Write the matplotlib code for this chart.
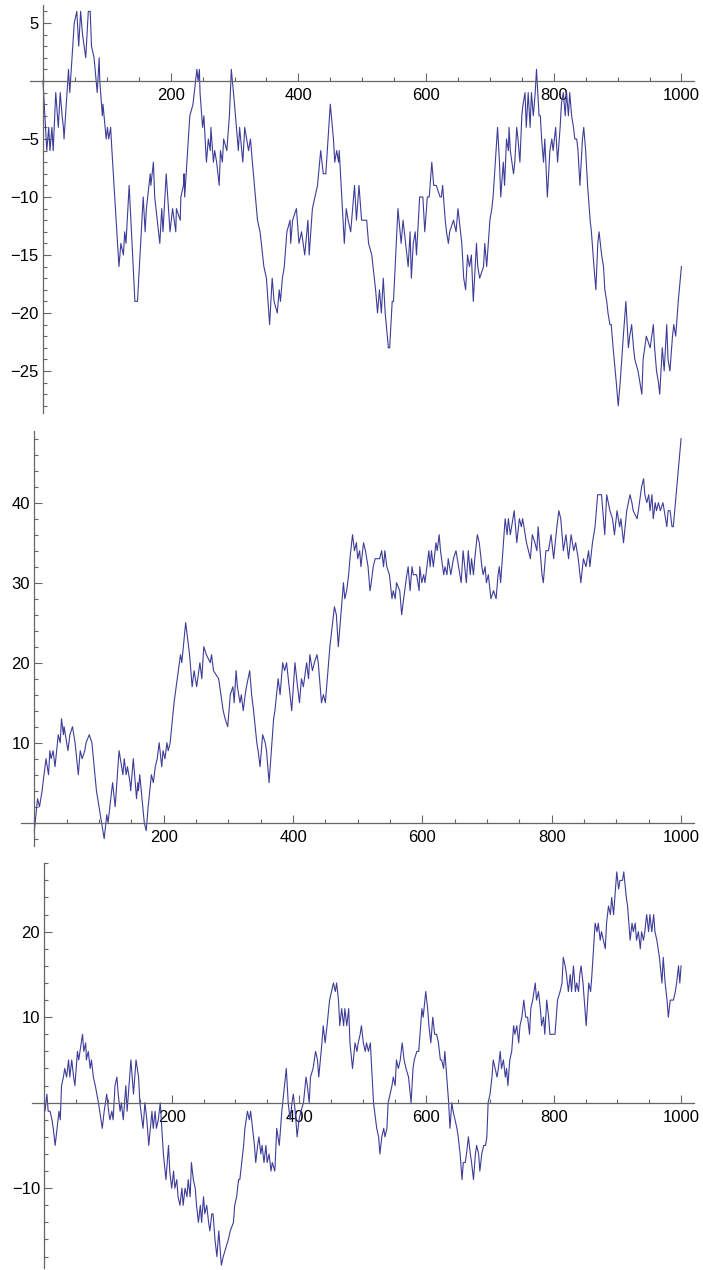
import matplotlib
matplotlib.use("Agg")
import matplotlib.pyplot as plt
from matplotlib.ticker import FixedLocator, MultipleLocator

# ---- data: turning points of the three walks ----
walk1_steps = [0, 6, 9, 11, 14, 16, 20, 24, 27, 30, 32, 33, 40, 42, 49, 53, 56, 59, 62, 67, 71, 74,
               76, 80, 85, 88, 89, 93, 94, 99, 101, 103, 106, 108, 119, 122, 126, 128, 130, 135,
               144, 148, 157, 160, 162, 168, 169, 173, 175, 181, 183, 186, 188, 193, 199, 203,
               208, 209, 215, 216, 220, 221, 222, 230, 235, 241, 243, 245, 246, 250, 252, 256,
               259, 262, 263, 267, 269, 272, 276, 278, 281, 283, 288, 292, 295, 300, 306, 308,
               313, 316, 319, 322, 325, 328, 336, 340, 346, 350, 355, 359, 362, 367, 370, 372,
               375, 378, 382, 387, 388, 391, 397, 401, 405, 410, 415, 417, 422, 426, 430, 435,
               439, 443, 450, 455, 457, 460, 463, 464, 472, 475, 478, 482, 488, 491, 495, 499,
               507, 510, 515, 517, 521, 524, 527, 530, 533, 536, 541, 543, 547, 549, 556, 561,
               564, 568, 572, 575, 577, 580, 583, 585, 590, 595, 598, 602, 605, 609, 612, 616,
               622, 624, 626, 630, 632, 635, 637, 643, 647, 650, 656, 659, 662, 665, 668, 671,
               674, 679, 681, 684, 690, 692, 695, 700, 703, 705, 712, 715, 717, 721, 723, 726,
               729, 730, 732, 737, 739, 742, 744, 747, 750, 752, 755, 757, 760, 763, 765, 768,
               771, 773, 777, 779, 781, 784, 786, 790, 794, 797, 799, 803, 806, 810, 812, 815,
               818, 820, 823, 825, 828, 831, 833, 836, 838, 841, 845, 847, 850, 853, 857, 859,
               863, 866, 869, 871, 875, 878, 880, 883, 885, 888, 890, 893, 898, 901, 904, 909,
               913, 917, 919, 922, 925, 927, 932, 935, 938, 940, 945, 951, 956, 958, 961, 964,
               966, 970, 973, 977, 979, 982, 986, 988, 991, 995, 1000]
walk1_vals = [0, -6, -4, -6, -4, -6, -1, -4, -1, -3, -4, -5, 1, -1, 5, 6, 3, 6, 4, 2, 6, 6,
              3, 2, -1, 2, 0, -3, -2, -5, -4, -5, -4, -6, -16, -14, -15, -13, -14, -9,
              -19, -19, -10, -13, -11, -8, -9, -7, -10, -13, -14, -11, -13, -8, -13, -11,
              -13, -11, -12, -10, -9, -8, -10, -3, -2, 1, 0, 1, -1, -4, -3, -7,
              -5, -6, -4, -7, -6, -7, -9, -6, -7, -5, -6, -3, 1, -2, -6, -4,
              -7, -4, -5, -6, -5, -7, -12, -13, -16, -17, -21, -17, -19, -20, -18, -19,
              -17, -16, -13, -12, -14, -12, -11, -14, -13, -15, -12, -15, -11, -10, -9, -6,
              -8, -8, -2, -5, -7, -6, -7, -6, -14, -11, -12, -13, -9, -12, -9, -12,
              -12, -14, -15, -16, -18, -20, -18, -20, -17, -20, -23, -23, -19, -19, -11, -14,
              -12, -14, -16, -13, -17, -14, -13, -15, -10, -10, -13, -10, -10, -7, -9, -9,
              -10, -10, -9, -12, -13, -14, -13, -12, -13, -11, -14, -17, -18, -15, -16, -15,
              -19, -14, -16, -17, -16, -14, -16, -12, -11, -10, -4, -7, -10, -7, -9, -5,
              -6, -4, -6, -8, -7, -4, -5, -7, -3, -2, -1, -4, -1, -4, -1, -3,
              -1, 1, -3, -3, -5, -7, -5, -10, -6, -5, -6, -4, -7, -4, -2, -1,
              -3, -1, -3, -1, -3, -4, -5, -5, -6, -9, -5, -4, -6, -9, -12, -13,
              -16, -18, -14, -13, -15, -16, -18, -19, -20, -21, -21, -23, -26, -28, -26, -22,
              -19, -23, -22, -21, -23, -24, -25, -26, -27, -24, -22, -23, -21, -23, -25, -26,
              -27, -23, -25, -21, -24, -25, -22, -21, -22, -19, -16]

walk2_steps = [0, 5, 8, 10, 12, 18, 22, 24, 26, 29, 32, 37, 40, 42, 45, 46, 52, 55, 59, 63, 68,
               71, 74, 78, 80, 85, 89, 96, 100, 104, 108, 112, 114, 121, 125, 131, 137, 139,
               142, 144, 148, 149, 153, 158, 160, 161, 163, 170, 173, 176, 181, 184, 187, 190,
               193, 197, 199, 202, 205, 207, 210, 216, 221, 226, 228, 234, 240, 244, 247, 251,
               256, 259, 262, 266, 272, 274, 277, 285, 292, 295, 299, 303, 307, 309, 312, 314,
               318, 320, 323, 326, 328, 333, 336, 339, 344, 346, 349, 353, 357, 359, 363, 370,
               372, 377, 380, 384, 387, 390, 394, 398, 403, 407, 410, 413, 416, 421, 424, 426,
               430, 433, 437, 439, 442, 444, 447, 450, 452, 457, 464, 467, 470, 475, 478, 480,
               483, 486, 488, 492, 495, 498, 500, 503, 505, 509, 512, 516, 519, 521, 524, 527,
               534, 537, 540, 542, 545, 549, 553, 555, 558, 560, 565, 568, 571, 576, 578, 581,
               584, 586, 591, 595, 596, 599, 602, 604, 607, 610, 612, 614, 617, 621, 623, 626,
               628, 633, 635, 638, 640, 644, 648, 652, 656, 660, 663, 668, 671, 674, 676, 679,
               681, 685, 688, 692, 694, 697, 699, 702, 706, 710, 714, 717, 719, 721, 728, 731,
               733, 736, 740, 742, 746, 750, 753, 755, 759, 761, 767, 770, 774, 777, 779, 785,
               787, 791, 795, 799, 803, 808, 811, 814, 818, 822, 826, 830, 834, 837, 841, 845,
               849, 853, 857, 859, 863, 867, 871, 877, 882, 885, 890, 894, 897, 901, 905, 907,
               911, 916, 921, 924, 926, 932, 934, 939, 942, 944, 947, 950, 952, 955, 957, 960,
               962, 965, 968, 972, 974, 978, 980, 983, 986, 988, 1000]
walk2_vals = [-1, 3, 2, 3, 4, 8, 6, 9, 8, 9, 7, 11, 10, 13, 11, 12, 9, 11, 12, 10, 6,
              9, 8, 9, 10, 11, 10, 4, 2, 0, -2, 1, 0, 5, 2, 9, 6, 8,
              6, 7, 5, 4, 8, 3, 5, 4, 6, 0, -1, 2, 6, 5, 7, 8,
              10, 7, 9, 8, 10, 9, 10, 15, 18, 21, 20, 25, 21, 17, 19, 17,
              20, 18, 22, 21, 20, 21, 19, 18, 14, 13, 12, 16, 17, 15, 19, 17,
              15, 16, 14, 16, 17, 19, 16, 14, 10, 9, 7, 11, 10, 9, 5, 13,
              14, 18, 16, 20, 19, 20, 17, 14, 20, 17, 15, 18, 17, 20, 18, 21,
              19, 20, 21, 20, 17, 15, 16, 15, 17, 22, 27, 26, 22, 27, 30, 28,
              29, 31, 33, 36, 34, 35, 33, 34, 32, 35, 34, 32, 29, 30, 32, 33,
              33, 34, 32, 34, 32, 31, 28, 29, 28, 30, 29, 26, 28, 31, 32, 29,
              32, 31, 31, 29, 32, 30, 31, 30, 32, 34, 32, 34, 32, 35, 34, 36,
              34, 31, 32, 31, 33, 31, 33, 34, 32, 30, 34, 30, 34, 31, 33, 31,
              33, 36, 35, 32, 31, 32, 30, 31, 28, 29, 28, 31, 32, 30, 38, 36,
              38, 36, 38, 39, 35, 38, 37, 38, 36, 35, 33, 36, 35, 34, 37, 31,
              30, 34, 34, 36, 33, 37, 39, 38, 34, 36, 33, 36, 34, 35, 33, 30,
              33, 32, 34, 32, 35, 37, 41, 41, 36, 41, 39, 38, 36, 39, 37, 38,
              35, 39, 41, 40, 39, 38, 39, 42, 43, 41, 40, 41, 39, 41, 38, 40,
              39, 40, 39, 40, 39, 37, 39, 39, 37, 37, 48]

walk3_steps = [0, 1, 4, 6, 9, 12, 14, 17, 20, 23, 25, 27, 30, 32, 35, 38, 40, 43, 46, 48, 52,
               54, 56, 60, 62, 65, 66, 69, 72, 74, 77, 80, 85, 87, 91, 94, 98, 101, 103, 106,
               108, 111, 114, 116, 119, 121, 124, 128, 130, 136, 140, 144, 148, 150, 155, 158,
               161, 164, 169, 171, 174, 176, 179, 182, 187, 191, 195, 197, 200, 203, 205, 208,
               210, 213, 216, 218, 221, 224, 226, 229, 231, 234, 237, 239, 242, 245, 247, 250,
               252, 255, 258, 260, 263, 265, 268, 271, 274, 278, 281, 285, 289, 292, 297, 299,
               302, 305, 307, 310, 313, 315, 319, 322, 324, 327, 330, 332, 335, 337, 340, 342,
               345, 348, 350, 353, 356, 358, 362, 365, 369, 373, 380, 383, 386, 389, 391, 394,
               397, 400, 403, 407, 411, 413, 416, 418, 422, 424, 426, 429, 431, 436, 438, 441,
               444, 448, 451, 454, 457, 459, 462, 464, 467, 470, 472, 475, 478, 480, 484, 488,
               491, 493, 496, 498, 501, 504, 506, 509, 512, 517, 522, 525, 527, 530, 533, 535,
               538, 540, 543, 546, 548, 551, 553, 556, 559, 562, 565, 568, 572, 576, 579, 581,
               585, 588, 593, 595, 599, 602, 604, 607, 610, 613, 616, 619, 622, 624, 627, 629,
               632, 635, 637, 640, 642, 645, 648, 650, 653, 656, 658, 661, 663, 666, 669, 671,
               674, 677, 679, 682, 684, 687, 690, 693, 695, 697, 700, 703, 705, 708, 711, 713,
               716, 718, 721, 724, 726, 728, 731, 734, 737, 739, 742, 745, 747, 750, 753, 756,
               759, 762, 764, 767, 771, 773, 776, 779, 781, 784, 786, 789, 792, 794, 802, 806,
               810, 813, 815, 818, 820, 823, 826, 828, 831, 834, 836, 839, 841, 843, 846, 851,
               855, 858, 860, 865, 868, 870, 873, 875, 878, 881, 883, 886, 889, 891, 894, 895,
               899, 902, 904, 908, 910, 914, 916, 920, 923, 925, 928, 930, 933, 936, 938, 941,
               943, 946, 949, 951, 954, 957, 959, 962, 966, 970, 972, 975, 978, 980, 983, 988,
               991, 993, 996, 998, 1000]
walk3_vals = [0, -1, 1, -1, -1, -2, -3, -5, -3, -1, -2, 2, 3, 4, 3, 5, 3, 5, 3, 2, 6,
              5, 6, 8, 6, 7, 5, 6, 4, 5, 3, 2, 0, -1, -3, -1, 1, -1, -2, -1,
              -2, 2, 3, 1, -1, 0, -2, 2, -1, 5, 1, 5, 3, 0, -3, 0,
              -2, -5, -1, -3, -1, -3, -2, 0, -6, -9, -5, -8, -10, -8, -10, -9,
              -11, -12, -10, -12, -10, -11, -9, -11, -7, -9, -10, -12, -14, -12, -14, -11,
              -13, -12, -14, -15, -13, -13, -16, -18, -15, -19, -18, -17, -16, -15, -14, -12,
              -11, -9, -9, -7, -5, -3, -1, -2, -1, -3, -5, -7, -5, -4, -6, -5,
              -7, -5, -7, -6, -8, -7, -8, -3, -5, -1, 4, 0, -2, 0, 1, -1,
              -4, -2, -1, 0, 3, 2, 0, 3, 4, 5, 6, 5, 3, 7, 9, 7,
              9, 12, 13, 14, 13, 14, 12, 9, 11, 9, 11, 9, 11, 7, 4, 7,
              6, 7, 8, 9, 7, 6, 7, 6, 7, 0, -3, -4, -6, -4, -3, -4,
              -3, 0, 1, 2, 3, 2, 5, 4, 5, 7, 5, 4, 3, 0, 4, 5,
              6, 6, 11, 10, 13, 11, 9, 7, 10, 8, 8, 7, 5, 5, 4, 6,
              3, 0, -3, 0, -1, -2, -3, -4, -6, -9, -7, -7, -6, -4, -6, -7,
              -9, -6, -5, -6, -8, -6, -5, -5, -4, 0, 1, 3, 5, 4, 3, 4,
              6, 4, 5, 3, 4, 2, 5, 6, 9, 8, 9, 7, 9, 10, 12, 10,
              10, 8, 11, 12, 14, 12, 13, 11, 9, 10, 8, 12, 10, 8, 8, 12,
              13, 14, 17, 16, 15, 13, 15, 13, 16, 13, 14, 13, 15, 16, 14, 9,
              14, 13, 15, 21, 20, 21, 19, 20, 19, 18, 21, 23, 22, 24, 22, 23,
              27, 25, 26, 26, 27, 24, 23, 19, 21, 20, 21, 19, 20, 18, 20, 19,
              20, 22, 20, 22, 20, 22, 20, 19, 17, 14, 17, 14, 12, 10, 12, 12,
              13, 14, 16, 14, 16]

x_major = [200, 400, 600, 800, 1000]
y1_major = [-25, -20, -15, -10, -5, 5]
y2_major = [10, 20, 30, 40]
y3_major = [-10, 10, 20]

LINE = "#3d3d99"
AXC = "#666666"

plt.rcParams["font.family"] = ["Liberation Sans", "DejaVu Sans"]

W, H = 703, 1270
fig = plt.figure(figsize=(W / 100, H / 100), dpi=100)


def add_panel(left, right, top, bottom):
    # pixel box -> figure fraction
    return fig.add_axes([left / W, 1 - bottom / H, (right - left) / W, (bottom - top) / H])


def style(ax, ylim, ymajor, yminor):
    ax.set_xlim(-20, 1020)
    ax.set_ylim(*ylim)
    for s in ("top", "right"):
        ax.spines[s].set_visible(False)
    ax.spines["left"].set_position(("data", 0))
    ax.spines["bottom"].set_position(("data", 0))
    for s in ("left", "bottom"):
        ax.spines[s].set_color(AXC)
        ax.spines[s].set_linewidth(0.9)
    ax.xaxis.set_major_locator(FixedLocator(x_major))
    ax.xaxis.set_minor_locator(MultipleLocator(50))
    ax.yaxis.set_major_locator(FixedLocator(ymajor))
    ax.yaxis.set_minor_locator(MultipleLocator(yminor))
    ax.tick_params(which="both", direction="in", color=AXC, width=0.8, labelsize=12,
                   labelcolor="black")
    ax.tick_params(which="major", length=5.5)
    ax.tick_params(which="minor", length=3)
    ax.tick_params(axis="x", pad=5)
    ax.tick_params(axis="y", pad=3)
    ax.set_facecolor("none")


ax1 = add_panel(30.2, 694.2, 5, 413)
ax1.plot(walk1_steps, walk1_vals, color=LINE, lw=0.8)
style(ax1, (-28.62, 6.55), y1_major, 1)

ax2 = add_panel(21.4, 694.0, 430.7, 845.9)
ax2.plot(walk2_steps, walk2_vals, color=LINE, lw=0.8)
style(ax2, (-2.9, 49), y2_major, 2)

ax3 = add_panel(31.6, 693.8, 863.3, 1267.7)
ax3.plot(walk3_steps, walk3_vals, color=LINE, lw=0.8)
style(ax3, (-19.3, 28.0), y3_major, 2)

fig.savefig("out.png", dpi=100)
